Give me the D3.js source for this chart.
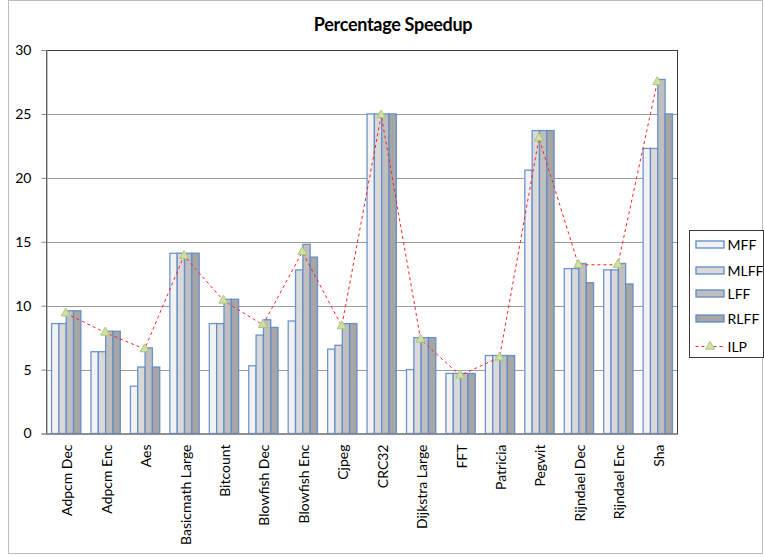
<!DOCTYPE html>
<html>
<head>
<meta charset="utf-8">
<script src="https://cdn.jsdelivr.net/npm/d3@7"></script>
<style>
  html, body { margin: 0; padding: 0; background: #fff; }
  svg { display: block; font-family: Lato, "Open Sans", sans-serif; }
</style>
</head>
<body>
<svg id="chart" width="764" height="558"></svg>
<script>
// Benchmarks and per-technique speedups (%)
const categories = ["Adpcm Dec", "Adpcm Enc", "Aes", "Basicmath Large", "Bitcount",
  "Blowfish Dec", "Blowfish Enc", "Cjpeg", "CRC32", "Dijkstra Large", "FFT",
  "Patricia", "Pegwit", "Rijndael Dec", "Rijndael Enc", "Sha"];
const seriesNames = ["MFF", "MLFF", "LFF", "RLFF"];
const MFF  = [8.6, 6.4, 3.7, 14.1, 8.6, 5.3, 8.8, 6.6, 25.0, 5.0, 4.7, 6.1, 20.6, 12.9, 12.8, 22.3];
const MLFF = [8.6, 6.4, 5.2, 14.1, 8.6, 7.7, 12.8, 6.9, 25.0, 7.5, 4.7, 6.1, 23.7, 12.9, 12.8, 22.3];
const LFF  = [9.6, 8.0, 6.7, 14.1, 10.5, 8.9, 14.8, 8.6, 25.0, 7.5, 4.7, 6.1, 23.7, 13.3, 13.3, 27.7];
const RLFF = [9.6, 8.0, 5.2, 14.1, 10.5, 8.3, 13.8, 8.6, 25.0, 7.5, 4.7, 6.1, 23.7, 11.8, 11.7, 25.0];
const ILP  = [9.4, 7.9, 6.6, 13.9, 10.4, 8.5, 14.2, 8.4, 24.9, 7.35, 4.55, 5.95, 23.1, 13.2, 13.2, 27.5];
const yTicks = [0, 5, 10, 15, 20, 25, 30];
const title = "Percentage Speedup";

const seriesValues = [MFF, MLFF, LFF, RLFF];
const fills = ["#f2f2f2", "#d9d9d9", "#bfbfbf", "#a6a6a6"];
const barStroke = "#5f8ac6";

const svg = d3.select("#chart");
const plot = { left: 46, right: 677, top: 50, bottom: 433.5 };

// Outer chart frame
svg.append("rect")
  .attr("x", 8.5).attr("y", 0.5).attr("width", 754).attr("height", 553)
  .attr("fill", "#fff").attr("stroke", "#bdbdbd");

// Title
svg.append("text")
  .attr("x", 393).attr("y", 31)
  .attr("text-anchor", "middle")
  .attr("font-size", 18).attr("font-weight", "bold")
  .attr("letter-spacing", -0.3)
  .attr("fill", "#000")
  .text(title);

const x = d3.scaleBand()
  .domain(categories)
  .range([plot.left, plot.right])
  .paddingInner(0.257)
  .paddingOuter(0.1285);

const xs = d3.scaleBand()
  .domain(seriesNames)
  .range([0, x.bandwidth()]);

const y = d3.scaleLinear().domain([0, 30]).range([plot.bottom, plot.top]);

// Horizontal gridlines
svg.append("g")
  .selectAll("line")
  .data(yTicks.filter(t => t > 0 && t < 30))
  .join("line")
  .attr("x1", plot.left).attr("x2", plot.right)
  .attr("y1", d => Math.round(y(d)) + 0.5).attr("y2", d => Math.round(y(d)) + 0.5)
  .attr("stroke", "#9a9a9a").attr("stroke-width", 1);

// Plot area border
svg.append("rect")
  .attr("x", plot.left + 0.5).attr("y", plot.top + 0.5)
  .attr("width", plot.right - plot.left).attr("height", plot.bottom - plot.top)
  .attr("fill", "none").attr("stroke", "#3a3a3a");

// Grouped bars
const groups = svg.append("g")
  .selectAll("g")
  .data(categories)
  .join("g")
  .attr("transform", d => `translate(${x(d)},0)`);

groups.selectAll("rect")
  .data((d, i) => seriesNames.map((s, k) => ({ s, k, v: seriesValues[k][i] })))
  .join("rect")
  .attr("x", d => xs(d.s) + 0.5)
  .attr("width", xs.bandwidth())
  .attr("y", d => y(d.v))
  .attr("height", d => y(0) - y(d.v))
  .attr("fill", d => fills[d.k])
  .attr("stroke", barStroke)
  .attr("stroke-opacity", 0.9)
  .attr("stroke-width", 1.3);

// Y axis
const yAxis = d3.axisLeft(y).tickValues(yTicks).tickSize(5).tickPadding(10);
const ya = svg.append("g")
  .attr("transform", `translate(${plot.left + 0.5},0)`)
  .call(yAxis);
ya.select(".domain").attr("stroke", "#868686");
ya.selectAll(".tick line").attr("stroke", "#868686");
ya.selectAll(".tick text")
  .attr("font-size", 14).attr("fill", "#000")
  .attr("font-family", "Lato, sans-serif");

// X axis line and rotated category labels
const xa = svg.append("g")
  .attr("transform", `translate(0,${plot.bottom})`)
  .call(d3.axisBottom(x).tickSize(0).tickPadding(0));
xa.select(".domain").attr("stroke", "#868686");
xa.selectAll(".tick text")
  .attr("font-size", 14).attr("fill", "#000")
  .attr("font-family", "Lato, sans-serif")
  .attr("text-anchor", "end")
  .attr("dy", null)
  .attr("transform", "translate(6.5,11) rotate(-90)");

// ILP line with triangle markers
const cx = d => x(d) + x.bandwidth() / 2;
const line = d3.line()
  .x((d, i) => cx(categories[i]))
  .y(d => y(d));
svg.append("path")
  .datum(ILP)
  .attr("d", line)
  .attr("fill", "none")
  .attr("stroke", "#ff2020")
  .attr("stroke-width", 1)
  .attr("stroke-dasharray", "3,3");

const tri = d3.symbol().type(d3.symbolTriangle).size(36);
svg.append("g")
  .selectAll("path")
  .data(ILP)
  .join("path")
  .attr("d", tri)
  .attr("transform", (d, i) => `translate(${cx(categories[i])},${y(d)})`)
  .attr("fill", "#cfe0a8")
  .attr("stroke", "#adc878")
  .attr("stroke-width", 1);

// Legend
const lg = svg.append("g").attr("transform", "translate(689.5,230.5)");
lg.append("rect")
  .attr("width", 74).attr("height", 127)
  .attr("fill", "#fff").attr("stroke", "#3a3a3a");
const rowY = [14, 40, 63, 88, 116];
seriesNames.forEach((s, k) => {
  lg.append("rect")
    .attr("x", 6.5).attr("y", rowY[k] - 3.5)
    .attr("width", 28).attr("height", 7)
    .attr("fill", fills[k]).attr("stroke", barStroke).attr("stroke-width", 1.3);
  lg.append("text")
    .attr("x", 38).attr("y", rowY[k] + 5)
    .attr("font-size", 14).attr("fill", "#000")
    .text(s);
});
lg.append("line")
  .attr("x1", 6).attr("x2", 35)
  .attr("y1", rowY[4]).attr("y2", rowY[4])
  .attr("stroke", "#ff2020").attr("stroke-dasharray", "3,3");
lg.append("path")
  .attr("d", tri)
  .attr("transform", `translate(20.5,${rowY[4]})`)
  .attr("fill", "#cfe0a8").attr("stroke", "#adc878");
lg.append("text")
  .attr("x", 38).attr("y", rowY[4] + 5)
  .attr("font-size", 14).attr("fill", "#000")
  .text("ILP");
</script>
</body>
</html>
